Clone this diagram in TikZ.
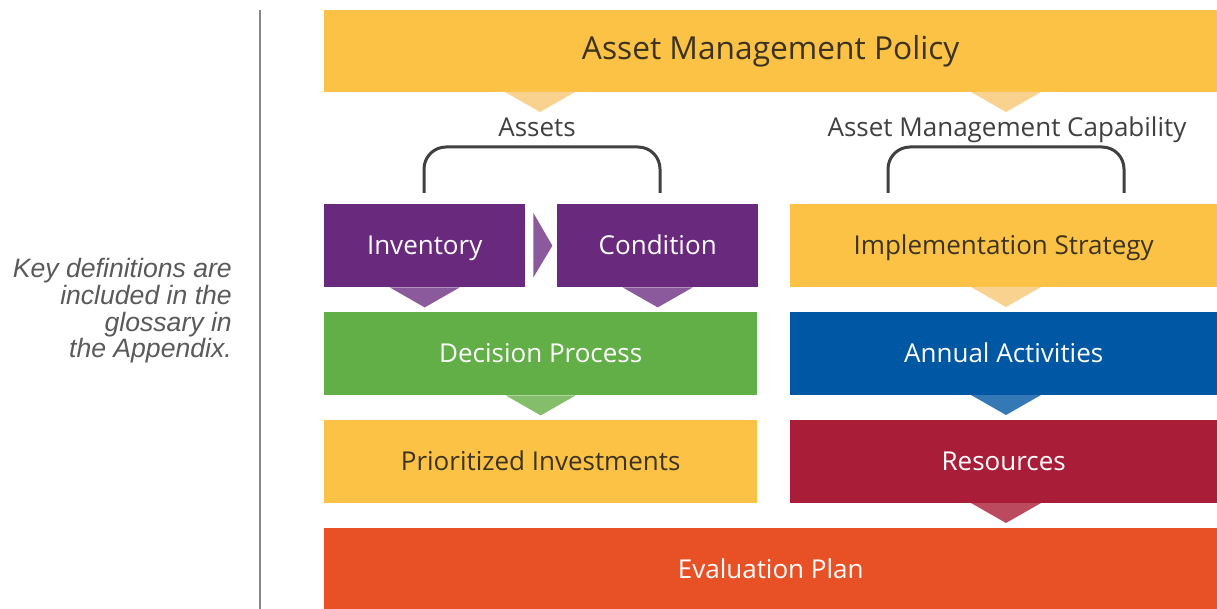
\documentclass[tikz,border=0pt]{standalone}
\usepackage{fontspec}
\setmainfont{Open Sans}
\newfontfamily\notefont{Liberation Sans}
\usetikzlibrary{calc}
\definecolor{cyel}{HTML}{FCC245}
\definecolor{cyelt}{HTML}{FAD290}
\definecolor{cpur}{HTML}{69297C}
\definecolor{cpurt}{HTML}{8A5A9C}
\definecolor{cgrn}{HTML}{62AE47}
\definecolor{cgrnt}{HTML}{84BE6A}
\definecolor{cblu}{HTML}{0057A3}
\definecolor{cblut}{HTML}{3479B5}
\definecolor{cred}{HTML}{AA1D38}
\definecolor{credt}{HTML}{BB4A5F}
\definecolor{corg}{HTML}{E85126}
\definecolor{cdark}{HTML}{3B3320}
\definecolor{cgray}{HTML}{404040}
\definecolor{cnote}{HTML}{5A5A5A}
\tikzset{
  box/.style={rectangle, inner sep=0pt, anchor=north west, text height=18.5pt, text depth=0pt, font=\fontsize{26}{28}\selectfont},
  bracket/.style={draw=cgray, line width=3pt, rounded corners=22pt},
  lbl/.style={text=cgray, font=\fontsize{26}{28}\selectfont, inner sep=0pt, text height=18.5pt, text depth=0pt}
}
\begin{document}
\begin{tikzpicture}[x=1pt,y=-1pt]
\useasboundingbox (0,0) rectangle (1217,609);
\fill[white] (0,0) rectangle (1217,609);
% left rule
\draw[line width=2pt, color=gray!95] (260,10) coordinate (ra) -- (260,609) coordinate (rb);
% note
\node[anchor=east, align=right, text=cnote, font=\notefont\itshape\fontsize{26.6}{26.6}\selectfont, inner sep=0pt] (note) at (232,311)
 {Key definitions are\\ included in the\\ glossary in\\ the Appendix.};
% boxes
\node[box, fill=cyel, minimum width=893pt, minimum height=82pt, text=cdark] (pol) at (324,10) {};
\node[text=cdark, font=\fontsize{31.7}{34}\selectfont, text height=22.6pt, text depth=0pt, inner sep=0pt] (poltxt) at ([yshift=3pt]pol.center) {Asset Management Policy};
\node[box, fill=cpur, minimum width=201pt, minimum height=83pt, text=white] (inv) at (324,204) {Inventory};
\node[box, fill=cpur, minimum width=201pt, minimum height=83pt, text=white] (cond) at (557,204) {Condition};
\node[box, fill=cyel, minimum width=427pt, minimum height=83pt, text=cdark] (impl) at (790,204) {Implementation Strategy};
\node[box, fill=cgrn, minimum width=433pt, minimum height=83pt, text=white] (dec) at (324,312) {Decision Process};
\node[box, fill=cblu, minimum width=427pt, minimum height=83pt, text=white] (ann) at (790,312) {Annual Activities};
\node[box, fill=cyel, minimum width=433pt, minimum height=83pt, text=cdark] (pri) at (324,420) {Prioritized Investments};
\node[box, fill=cred, minimum width=427pt, minimum height=83pt, text=white] (res) at (790,420) {Resources};
\node[box, fill=corg, minimum width=893pt, minimum height=82pt, text=white] (eval) at (324,528) {Evaluation Plan};
% labels
\node[lbl] (lassets) at (537,127) {Assets};
\node[lbl] (lcap) at (1007,127) {Asset Management Capability};
% brackets
\draw[bracket] (424,193) coordinate (b1a) -- (424,147) -- (660,147) -- (660,193) coordinate (b1b);
\draw[bracket] (888,193) coordinate (b2a) -- (888,147) -- (1124,147) -- (1124,193) coordinate (b2b);
% triangles
\coordinate (t1) at (540,92);
\coordinate (t2) at (1006,92);
\fill[cyelt] ([xshift=-35pt]t1) -- ([xshift=35pt]t1) -- ([yshift=-20pt]t1) -- cycle;
\fill[cyelt] ([xshift=-35pt]t2) -- ([xshift=35pt]t2) -- ([yshift=-20pt]t2) -- cycle;
\fill[cpurt] ([xshift=-35pt]inv.south) -- ([xshift=35pt]inv.south) -- ([yshift=-20pt]inv.south) -- cycle;
\fill[cpurt] ([xshift=-35pt]cond.south) -- ([xshift=35pt]cond.south) -- ([yshift=-20pt]cond.south) -- cycle;
\coordinate (t3) at (1006,287);
\fill[cyelt] ([xshift=-35pt]t3) -- ([xshift=35pt]t3) -- ([yshift=-20pt]t3) -- cycle;
\fill[cgrnt] ([xshift=-35pt]dec.south) -- ([xshift=35pt]dec.south) -- ([yshift=-20pt]dec.south) -- cycle;
\coordinate (t4) at (1006,395);
\fill[cblut] ([xshift=-35pt]t4) -- ([xshift=35pt]t4) -- ([yshift=-20pt]t4) -- cycle;
\coordinate (t5) at (1006,503);
\fill[credt] ([xshift=-35pt]t5) -- ([xshift=35pt]t5) -- ([yshift=-20pt]t5) -- cycle;
% side arrow
\fill[cpurt] ([xshift=8pt,yshift=-9pt]inv.north east) -- ([xshift=27pt]inv.east) -- ([xshift=8pt,yshift=10pt]inv.south east) -- cycle;
\end{tikzpicture}
\end{document}
